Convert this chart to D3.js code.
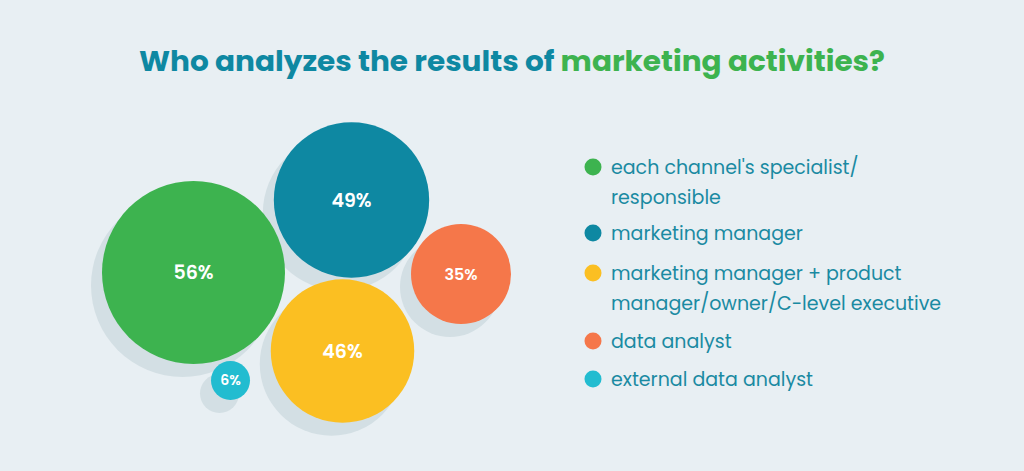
<!DOCTYPE html>
<html><head><meta charset="utf-8">
<script src="https://cdn.jsdelivr.net/npm/d3@7"></script>
<style>body{margin:0;background:#e8eff3}svg{display:block}</style>
</head><body>
<svg id="c" width="1024" height="471"></svg>
<script>
const categories = ["each channel's specialist/|responsible","marketing manager","marketing manager + product|manager/owner/C-level executive","data analyst","external data analyst"];
const values = [56, 49, 46, 35, 6];
const colors = ["#3db34f","#0e88a2","#fbbf22","#f5774a","#22bcd0"];
// bubble layout centres (positions only)
const centres = [[193.5,272.5],[351.5,200],[342.5,351],[461,274],[230.5,380.5]];

const svg = d3.select("#c");
const F = "Poppins, 'Open Sans', sans-serif";
svg.append("rect").attr("width",1024).attr("height",471).attr("fill","#e8eff3");

const t = svg.append("text").attr("x",512).attr("y",71).attr("text-anchor","middle")
  .attr("font-family",F).attr("font-weight",700).attr("font-size",28)
  .attr("textLength",746).attr("lengthAdjust","spacingAndGlyphs");
t.append("tspan").attr("fill","#0e88a2").text("Who analyzes the results of ");
t.append("tspan").attr("fill","#3db34f").text("marketing activities?");

const r = d3.scaleLinear().domain([6,35,56]).range([19.5,50,91.5]);
const data = values.map((v,i)=>({v,c:colors[i],x:centres[i][0],y:centres[i][1]}));

svg.append("g").selectAll("circle").data(data).join("circle")
  .attr("cx",d=>d.x-11).attr("cy",d=>d.y+13).attr("r",d=>r(d.v)).attr("fill","#d3dfe4");
svg.append("g").selectAll("circle").data(data).join("circle")
  .attr("cx",d=>d.x).attr("cy",d=>d.y).attr("r",d=>r(d.v)).attr("fill",d=>d.c);
svg.append("g").selectAll("text").data(data).join("text")
  .attr("x",d=>d.x).attr("y",d=>d.y).attr("dy","0.35em").attr("text-anchor","middle")
  .attr("font-family",F).attr("font-weight",600).attr("fill","#fff")
  .attr("font-size",d=>d.v>=40?19:(d.v>=20?16:14)).text(d=>d.v+"%");

const y = d3.scalePoint().domain(d3.range(categories.length)).range([167,379]);
const rowY = [167,233,273,341,379];
const lg = svg.append("g").selectAll("g").data(categories).join("g")
  .attr("transform",(d,i)=>`translate(593,${rowY[i]})`);
lg.append("circle").attr("r",8.5).attr("fill",(d,i)=>colors[i]);
lg.each(function(d){
  const lines=d.split("|");
  d3.select(this).selectAll("text").data(lines).join("text")
    .attr("x",18).attr("y",(l,j)=>j*30).attr("dy","0.35em")
    .attr("font-family",F).attr("font-size",19).attr("fill","#1a8aa2").text(l=>l);
});
</script>
</body></html>
